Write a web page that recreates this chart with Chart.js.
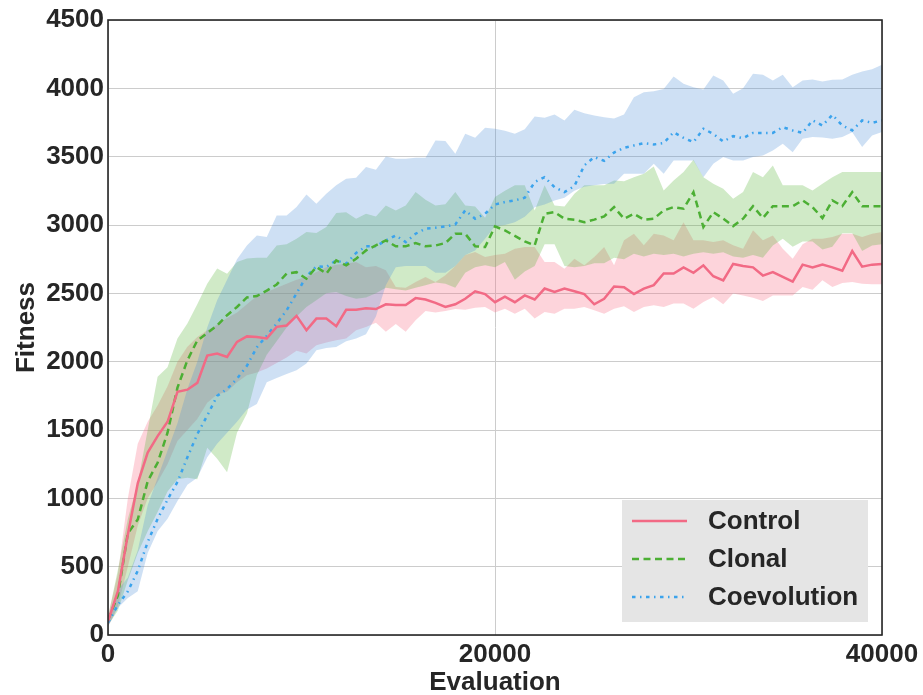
<!DOCTYPE html>
<html>
<head>
<meta charset="utf-8">
<script src="https://cdn.jsdelivr.net/npm/chart.js@4.4.1/dist/chart.umd.min.js"></script>
<style>
  html, body { margin: 0; padding: 0; background: #fff; }
  #wrap { width: 923px; height: 695px; }
</style>
</head>
<body>
<div id="wrap"><canvas id="chart" width="923" height="695"></canvas></div>
<script>
// samples are spread evenly over the evaluation budget
const totalEvals = 40000;
const sampleCount = 79;
const evaluations = Array.from({ length: sampleCount }, (_, i) => Math.round(i * totalEvals / (sampleCount - 1)));

const xTicks = [0, 20000, 40000];
const yTicks = [0, 500, 1000, 1500, 2000, 2500, 3000, 3500, 4000, 4500];

// Control
const controlMean = [
  100, 320, 735, 1110, 1335, 1455, 1560, 1780, 1795, 1845,
  2045, 2060, 2035, 2145, 2185, 2180, 2170, 2255, 2265, 2335,
  2230, 2315, 2315, 2260, 2380, 2380, 2390, 2385, 2420, 2415,
  2415, 2465, 2455, 2430, 2400, 2420, 2460, 2515, 2495, 2435,
  2475, 2435, 2485, 2455, 2535, 2510, 2535, 2515, 2495, 2420,
  2460, 2550, 2545, 2495, 2535, 2560, 2645, 2645, 2690, 2650,
  2705, 2625, 2595, 2715, 2700, 2690, 2630, 2655, 2620, 2585,
  2710, 2690, 2710, 2690, 2665, 2810, 2695, 2710, 2715];
const controlLower = [
  60, 210, 500, 800, 1000, 1120, 1250, 1420, 1500, 1580,
  1700, 1760, 1780, 1850, 1900, 1920, 1950, 1990, 2030, 2080,
  2060, 2120, 2140, 2157, 2169, 2230, 2254, 2285, 2218, 2275,
  2218, 2303, 2370, 2360, 2370, 2385, 2380, 2395, 2400, 2360,
  2388, 2351, 2388, 2315, 2364, 2351, 2388, 2388, 2400, 2376,
  2351, 2388, 2405, 2364, 2400, 2412, 2400, 2425, 2425, 2388,
  2437, 2473, 2420, 2498, 2485, 2468, 2444, 2485, 2485, 2485,
  2546, 2527, 2595, 2546, 2575, 2583, 2571, 2566, 2566];
const controlUpper = [
  140, 450, 1000, 1400, 1560, 1680, 1820, 2000, 2110, 2180,
  2230, 2270, 2320, 2360, 2420, 2480, 2510, 2540, 2570, 2600,
  2620, 2656, 2690, 2710, 2717, 2729, 2690, 2700, 2668, 2546,
  2541, 2583, 2619, 2583, 2632, 2700, 2780, 2802, 2766, 2780,
  2790, 2827, 2839, 2839, 2729, 2729, 2680, 2753, 2705, 2766,
  2839, 2705, 2888, 2936, 2851, 2936, 2924, 2888, 3021, 2888,
  2888, 2875, 2888, 2851, 2827, 2961, 2888, 2924, 2827, 2753,
  2860, 2900, 2900, 2912, 2936, 2936, 2912, 2936, 2949];

// Clonal
const clonalMean = [
  110, 290, 745, 845, 1125, 1260, 1480, 1810, 2010, 2155,
  2210, 2265, 2340, 2400, 2470, 2480, 2520, 2565, 2645, 2655,
  2607, 2693, 2644, 2741, 2705, 2753, 2814, 2851, 2887, 2844,
  2844, 2868, 2844, 2850, 2868, 2936, 2936, 2844, 2839, 2990,
  2960, 2920, 2880, 2851, 3082, 3094, 3046, 3039, 3020, 3039,
  3063, 3131, 3046, 3082, 3039, 3046, 3107, 3131, 3119, 3240,
  2985, 3094, 3046, 2992, 3046, 3138, 3051, 3138, 3138, 3138,
  3180, 3131, 3051, 3180, 3138, 3241, 3138, 3138, 3138];
const clonalLower = [
  70, 180, 400, 600, 760, 900, 1050, 1140, 1150, 1140,
  1370, 1290, 1190, 1480, 1620, 1900, 2050, 2150, 2250, 2330,
  2400, 2450, 2500, 2510, 2480, 2460, 2470, 2500, 2540, 2530,
  2520, 2540, 2560, 2580, 2570, 2541, 2650, 2690, 2705, 2690,
  2730, 2600, 2660, 2700, 2860, 2860, 2700, 2690, 2700, 2720,
  2720, 2760, 2750, 2790, 2770, 2790, 2780, 2790, 2770, 2790,
  2800, 2790, 2800, 2770, 2760, 2780, 2760, 2850, 2900, 2840,
  2880, 2880, 2820, 2840, 2940, 2940, 2810, 2850, 2860];
const clonalUpper = [
  130, 480, 850, 1110, 1500, 1890, 1960, 2170, 2280, 2420,
  2571, 2681, 2644, 2729, 2754, 2760, 2760, 2850, 2860, 2900,
  2948, 2941, 2985, 3087, 3094, 3046, 3082, 3063, 3143, 3107,
  3143, 3241, 3185, 3143, 3151, 3241, 3143, 3136, 3053, 3204,
  3250, 3290, 3290, 3107, 3290, 3143, 3136, 3229, 3290, 3290,
  3290, 3326, 3320, 3350, 3375, 3428, 3253, 3326, 3387, 3477,
  3350, 3302, 3265, 3192, 3241, 3387, 3350, 3436, 3290, 3290,
  3290, 3253, 3302, 3350, 3387, 3387, 3387, 3387, 3387];

// Coevolution
const coevMean = [
  90, 220, 320, 470, 680, 850, 990, 1120, 1300, 1470,
  1605, 1750, 1800, 1875, 1970, 2105, 2190, 2280, 2375, 2500,
  2624, 2697, 2693, 2741, 2717, 2795, 2844, 2844, 2887, 2924,
  2875, 2936, 2973, 2980, 2990, 3004, 3107, 3046, 3082, 3150,
  3168, 3180, 3200, 3314, 3350, 3277, 3241, 3285, 3436, 3497,
  3470, 3530, 3565, 3582, 3599, 3589, 3600, 3679, 3638, 3606,
  3704, 3667, 3611, 3650, 3635, 3674, 3674, 3674, 3716, 3692,
  3674, 3765, 3728, 3806, 3728, 3692, 3765, 3748, 3765];
const coevLower = [
  60, 200, 270, 320, 600, 760, 850, 980, 1100, 1150,
  1300, 1400, 1480, 1560, 1650, 1690, 1850, 1880, 1910, 1937,
  1986, 2083, 2100, 2108, 2150, 2170, 2200, 2330, 2560, 2690,
  2700, 2700, 2700, 2650, 2650, 2700, 2780, 2814, 2900, 2990,
  3000, 3020, 3060, 3130, 3150, 3180, 3200, 3250, 3280, 3290,
  3300, 3302, 3375, 3375, 3375, 3448, 3375, 3472, 3472, 3472,
  3350, 3448, 3497, 3472, 3472, 3497, 3509, 3545, 3594, 3533,
  3631, 3643, 3640, 3631, 3643, 3679, 3570, 3655, 3680];
const coevUpper = [
  130, 330, 420, 620, 950, 1150, 1350, 1550, 1800, 2000,
  2250, 2450, 2600, 2750, 2850, 2924, 2912, 3070, 3070, 3131,
  3224, 3155, 3229, 3290, 3339, 3346, 3424, 3405, 3502, 3485,
  3485, 3492, 3492, 3619, 3614, 3521, 3667, 3638, 3711, 3704,
  3690, 3667, 3700, 3794, 3784, 3809, 3765, 3843, 3818, 3801,
  3789, 3780, 3809, 3935, 3972, 3979, 3996, 4086, 4033, 4008,
  3991, 4094, 4057, 3960, 4001, 4106, 4099, 4057, 4099, 4008,
  4057, 4065, 4050, 4062, 4065, 4099, 4123, 4140, 4172];

const textColor = '#262626';
const boldFont = { family: '"Liberation Sans", Arial, sans-serif', size: 26, weight: 'bold' };

const pts = (arr) => evaluations.map((x, i) => ({ x: x, y: arr[i] }));

function band(lower, upper, fillColor, order) {
  return [
    { data: pts(lower), borderWidth: 0, borderColor: 'transparent', pointRadius: 0, fill: false, order: order },
    { data: pts(upper), borderWidth: 0, borderColor: 'transparent', pointRadius: 0, fill: '-1', backgroundColor: fillColor, order: order }
  ];
}

// box round the plot area, drawn over the fills like matplotlib spines
const framePlugin = {
  id: 'frame',
  afterDatasetsDraw(chart) {
    const { ctx, chartArea: a } = chart;
    ctx.save();
    ctx.strokeStyle = textColor;
    ctx.lineWidth = 1.6;
    ctx.strokeRect(a.left, a.top, a.right - a.left, a.bottom - a.top);
    ctx.restore();
  }
};

// legend sits inside the lower right corner, on a grey box
const legendPlugin = {
  id: 'insideLegend',
  afterDraw(chart) {
    const { ctx, chartArea: a } = chart;
    const entries = chart.data.datasets.filter(d => d.label);
    const boxW = 246, boxH = 122;
    const x0 = a.right - 14 - boxW;
    const y0 = a.bottom - 13 - boxH;
    ctx.save();
    ctx.fillStyle = '#e5e5e5';
    ctx.fillRect(x0, y0, boxW, boxH);
    ctx.font = 'bold 26px "Liberation Sans", Arial, sans-serif';
    ctx.textBaseline = 'middle';
    ctx.textAlign = 'left';
    entries.forEach((d, k) => {
      const y = y0 + 21 + k * 38;
      ctx.strokeStyle = d.borderColor;
      ctx.lineWidth = d.borderWidth;
      ctx.setLineDash(d.borderDash || []);
      ctx.beginPath();
      ctx.moveTo(x0 + 10, y);
      ctx.lineTo(x0 + 65, y);
      ctx.stroke();
      ctx.setLineDash([]);
      ctx.fillStyle = textColor;
      ctx.fillText(d.label, x0 + 86, y + 1);
    });
    ctx.restore();
  }
};

new Chart(document.getElementById('chart'), {
  type: 'line',
  data: {
    datasets: [
      { label: 'Control', data: pts(controlMean), borderColor: '#f26a85', borderWidth: 2.5, pointRadius: 0, fill: false, order: 1 },
      { label: 'Clonal', data: pts(clonalMean), borderColor: '#4caf34', borderWidth: 2.5, borderDash: [7, 4.5], pointRadius: 0, fill: false, order: 1 },
      { label: 'Coevolution', data: pts(coevMean), borderColor: '#3ba3ec', borderWidth: 2.5, borderDash: [3.5, 4.5, 1.5, 4.5], pointRadius: 0, fill: false, order: 1 },
      ...band(controlLower, controlUpper, 'rgba(247,113,137,0.3)', 5),
      ...band(clonalLower, clonalUpper, 'rgba(80,177,49,0.27)', 4),
      ...band(coevLower, coevUpper, 'rgba(80,145,215,0.28)', 3)
    ]
  },
  options: {
    responsive: false,
    animation: false,
    layout: { padding: { left: 0, right: 41, top: 20, bottom: 0 } },
    plugins: {
      legend: { display: false },
      tooltip: { enabled: false }
    },
    elements: { line: { tension: 0 } },
    scales: {
      x: {
        type: 'linear',
        min: 0,
        max: 40000,
        afterBuildTicks: s => { s.ticks = xTicks.map(v => ({ value: v })); },
        afterFit: s => { s.height = 60; },
        grid: { color: '#cccccc', lineWidth: 1, drawTicks: false },
        border: { display: false },
        ticks: { padding: 4, maxRotation: 0, font: boldFont, color: textColor, callback: v => String(v) },
        title: { display: true, text: 'Evaluation', font: Object.assign({}, boldFont, { lineHeight: 0.9 }), color: textColor, padding: { top: 0, bottom: 0 } }
      },
      y: {
        type: 'linear',
        min: 0,
        max: 4500,
        afterBuildTicks: s => { s.ticks = yTicks.map(v => ({ value: v })); },
        afterFit: s => { s.width = 108; },
        grid: { color: '#cccccc', lineWidth: 1, drawTicks: false },
        border: { display: false },
        ticks: { padding: 4, font: boldFont, color: textColor, callback: v => String(v) },
        title: { display: true, text: 'Fitness', font: boldFont, color: textColor, padding: { top: 11, bottom: 0 } }
      }
    }
  },
  plugins: [framePlugin, legendPlugin]
});
</script>
</body>
</html>
